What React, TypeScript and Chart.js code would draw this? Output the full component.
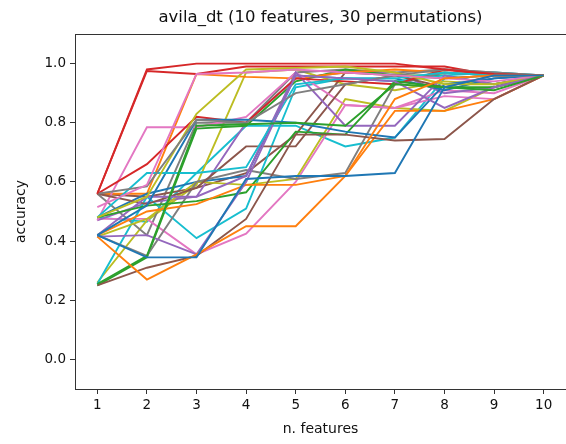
import React, { useEffect, useRef } from "react";
import { Chart, registerables } from "chart.js";

Chart.register(...registerables);

const features = [1, 2, 3, 4, 5, 6, 7, 8, 9, 10];
const yTickValues = [0, 0.2, 0.4, 0.6, 0.8, 1.0];
const palette = [
  "#1f77b4", "#ff7f0e", "#2ca02c", "#d62728", "#9467bd",
  "#8c564b", "#e377c2", "#7f7f7f", "#bcbd22", "#17becf",
];

const perm01 = [0.42, 0.345, 0.345, 0.61, 0.62, 0.62, 0.63, 0.92, 0.96, 0.96];
const perm02 = [0.415, 0.27, 0.355, 0.45, 0.45, 0.62, 0.88, 0.95, 0.96, 0.96];
const perm03 = [0.255, 0.35, 0.79, 0.795, 0.80, 0.79, 0.93, 0.92, 0.91, 0.96];
const perm04 = [0.56, 0.98, 1.0, 1.0, 1.0, 1.0, 1.0, 0.98, 0.965, 0.96];
const perm05 = [0.415, 0.42, 0.355, 0.60, 0.96, 0.95, 0.94, 0.85, 0.92, 0.96];
const perm06 = [0.25, 0.31, 0.35, 0.475, 0.76, 0.76, 0.74, 0.745, 0.88, 0.96];
const perm07 = [0.515, 0.59, 0.965, 0.97, 0.98, 0.97, 0.96, 0.95, 0.94, 0.96];
const perm08 = [0.56, 0.585, 0.81, 0.80, 0.90, 0.93, 0.96, 0.98, 0.97, 0.96];
const perm09 = [0.48, 0.55, 0.83, 0.98, 0.985, 0.99, 0.97, 0.93, 0.93, 0.96];
const perm10 = [0.48, 0.63, 0.63, 0.65, 0.93, 0.95, 0.95, 0.97, 0.96, 0.96];
const perm11 = [0.42, 0.52, 0.81, 0.81, 0.80, 0.77, 0.75, 0.93, 0.95, 0.96];
const perm12 = [0.42, 0.50, 0.525, 0.59, 0.59, 0.62, 0.84, 0.84, 0.88, 0.96];
const perm13 = [0.48, 0.52, 0.535, 0.565, 0.77, 0.76, 0.94, 0.92, 0.92, 0.96];
const perm14 = [0.56, 0.66, 0.82, 0.80, 0.95, 0.94, 0.93, 0.98, 0.96, 0.96];
const perm15 = [0.42, 0.55, 0.55, 0.62, 0.97, 0.79, 0.79, 0.96, 0.93, 0.96];
const perm16 = [0.56, 0.525, 0.58, 0.72, 0.72, 0.93, 0.96, 0.92, 0.96, 0.96];
const perm17 = [0.47, 0.785, 0.785, 0.82, 0.97, 0.86, 0.85, 0.89, 0.88, 0.96];
const perm18 = [0.42, 0.35, 0.60, 0.64, 0.61, 0.63, 0.93, 0.97, 0.96, 0.96];
const perm19 = [0.415, 0.475, 0.60, 0.59, 0.61, 0.88, 0.85, 0.84, 0.92, 0.96];
const perm20 = [0.255, 0.55, 0.41, 0.51, 0.92, 0.95, 0.94, 0.96, 0.97, 0.96];
const perm21 = [0.48, 0.56, 0.60, 0.62, 0.96, 0.95, 0.95, 0.91, 0.95, 0.96];
const perm22 = [0.56, 0.56, 0.965, 0.955, 0.95, 0.97, 0.98, 0.97, 0.96, 0.96];
const perm23 = [0.25, 0.345, 0.78, 0.79, 0.94, 0.98, 0.96, 0.96, 0.93, 0.96];
const perm24 = [0.56, 0.975, 0.965, 0.99, 0.99, 0.99, 0.99, 0.99, 0.96, 0.96];
const perm25 = [0.47, 0.53, 0.55, 0.80, 0.95, 0.97, 0.97, 0.90, 0.92, 0.96];
const perm26 = [0.56, 0.55, 0.58, 0.63, 0.76, 0.97, 0.96, 0.95, 0.96, 0.96];
const perm27 = [0.475, 0.475, 0.355, 0.425, 0.60, 0.86, 0.85, 0.91, 0.90, 0.96];
const perm28 = [0.56, 0.42, 0.80, 0.80, 0.97, 0.98, 0.97, 0.98, 0.97, 0.96];
const perm29 = [0.26, 0.47, 0.59, 0.97, 0.98, 0.93, 0.91, 0.94, 0.93, 0.96];
const perm30 = [0.48, 0.465, 0.63, 0.79, 0.79, 0.72, 0.75, 0.95, 0.96, 0.96];

const permutations = [
  perm01, perm02, perm03, perm04, perm05, perm06, perm07, perm08, perm09, perm10,
  perm11, perm12, perm13, perm14, perm15, perm16, perm17, perm18, perm19, perm20,
  perm21, perm22, perm23, perm24, perm25, perm26, perm27, perm28, perm29, perm30,
];

const titleText = "avila_dt (10 features, 30 permutations)";
const FONT = "'DejaVu Sans', sans-serif";

const framePlugin = {
  id: "frame",
  afterDatasetsDraw(chart: any) {
    const { ctx, chartArea } = chart;
    ctx.save();
    ctx.strokeStyle = "#333";
    ctx.lineWidth = 1;
    const top = Math.round(chartArea.top) + 0.5;
    ctx.beginPath();
    ctx.moveTo(chartArea.left, top);
    ctx.lineTo(chart.width, top);
    ctx.stroke();
    ctx.fillStyle = "#111";
    ctx.font = `16.5px ${FONT}`;
    ctx.textAlign = "center";
    ctx.textBaseline = "middle";
    ctx.fillText(titleText, (chartArea.left + chartArea.right) / 2, 18);
    ctx.restore();
  },
};

export default function App() {
  const ref = useRef<HTMLCanvasElement | null>(null);
  useEffect(() => {
    if (!ref.current) return;
    const chart = new Chart(ref.current, {
      type: "line",
      data: {
        datasets: permutations.map((vals, i) => ({
          label: `perm ${i + 1}`,
          data: vals.map((v, j) => ({ x: features[j], y: v })),
          borderColor: palette[i % palette.length],
          backgroundColor: palette[i % palette.length],
          borderWidth: 1.9,
          pointRadius: 0,
          tension: 0,
          fill: false,
        })),
      },
      options: {
        responsive: false,
        animation: false,
        layout: { padding: { top: 34, left: 0, right: 0, bottom: 0 } },
        plugins: {
          legend: { display: false },
          title: { display: false },
          tooltip: { enabled: false },
        },
        scales: {
          x: {
            type: "linear",
            min: 0.55,
            max: 10.45,
            afterBuildTicks: (scale: any) => {
              scale.ticks = features.map((v) => ({ value: v }));
            },
            afterFit: (scale: any) => {
              scale.height = 55;
            },
            ticks: {
              color: "#111",
              font: { family: FONT, size: 13.5 },
              padding: 3,
              maxRotation: 0,
              autoSkip: false,
              callback: (v: any) => String(v),
            },
            grid: {
              display: true,
              drawOnChartArea: false,
              drawTicks: true,
              tickLength: 5,
              color: "#333",
            },
            border: { display: true, color: "#333", width: 1 },
            title: {
              display: true,
              text: "n. features",
              color: "#111",
              font: { family: FONT, size: 14 },
              padding: { top: 0, bottom: 6 },
            },
          },
          y: {
            type: "linear",
            min: -0.1,
            max: 1.1,
            afterBuildTicks: (scale: any) => {
              scale.ticks = yTickValues.map((v) => ({ value: v }));
            },
            afterFit: (scale: any) => {
              scale.width = 75;
            },
            ticks: {
              color: "#111",
              font: { family: FONT, size: 13.5 },
              padding: 4,
              callback: (v: any) => Number(v).toFixed(1),
            },
            grid: {
              display: true,
              drawOnChartArea: false,
              drawTicks: true,
              tickLength: 5,
              color: "#333",
            },
            border: { display: true, color: "#333", width: 1 },
            title: {
              display: true,
              text: "accuracy",
              color: "#111",
              font: { family: FONT, size: 14 },
              padding: { top: 13, bottom: 0 },
            },
          },
        },
      },
      plugins: [framePlugin],
    });
    return () => chart.destroy();
  }, []);
  return (
    <div style={{ position: "fixed", left: 0, top: 0, width: 566, height: 444, background: "#fff" }}>
      <canvas ref={ref} width={566} height={444} style={{ display: "block" }} />
    </div>
  );
}
